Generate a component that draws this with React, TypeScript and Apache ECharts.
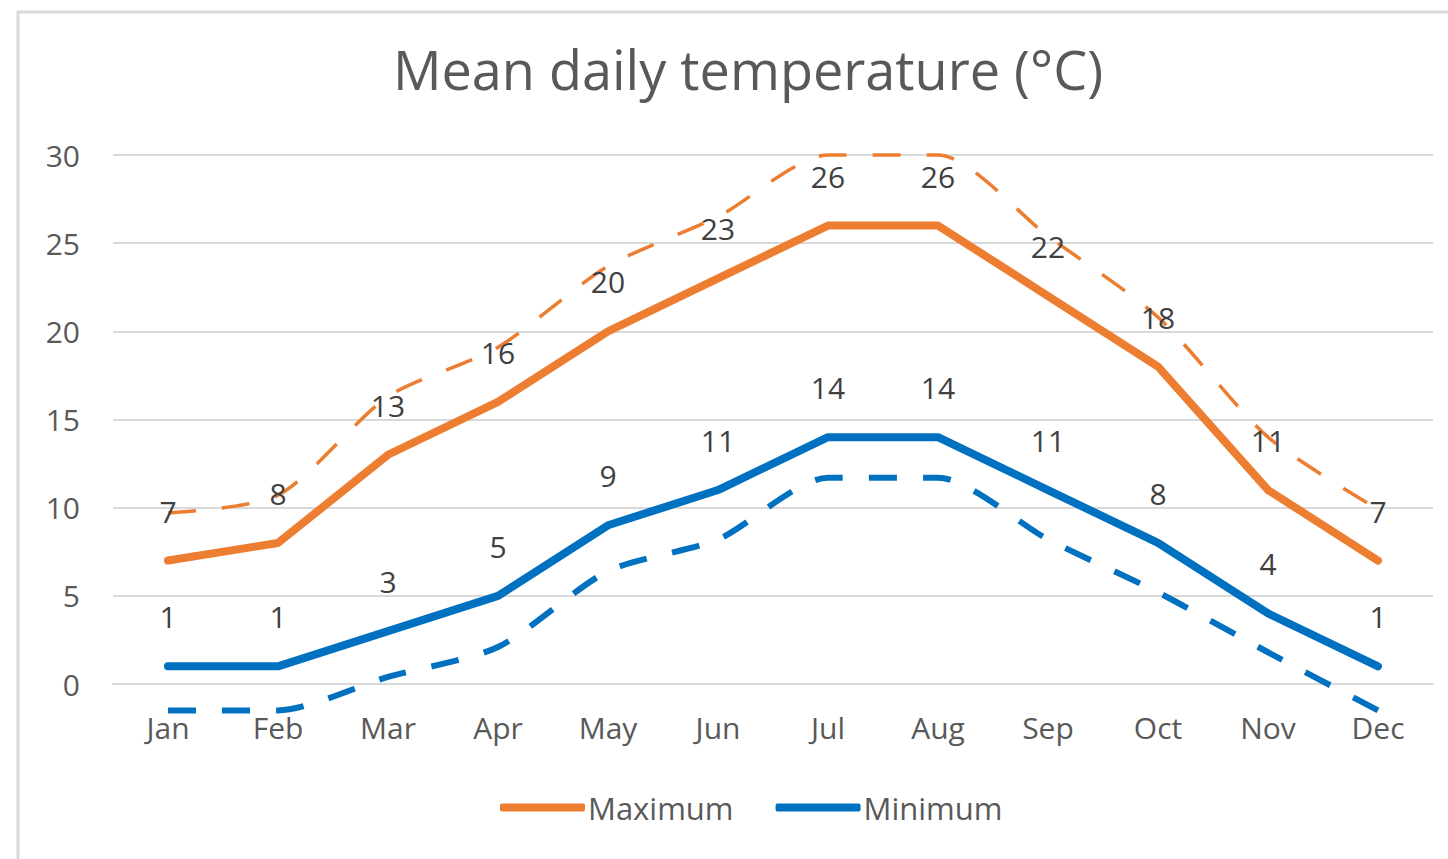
import React, { useEffect, useRef } from "react";
import * as echarts from "echarts";

const months = ["Jan", "Feb", "Mar", "Apr", "May", "Jun", "Jul", "Aug", "Sep", "Oct", "Nov", "Dec"];
const maximum = [7, 8, 13, 16, 20, 23, 26, 26, 22, 18, 11, 7];
const minimum = [1, 1, 3, 5, 9, 11, 14, 14, 11, 8, 4, 1];
const upperDashed = [9.7, 10.7, 16.3, 19.1, 23.7, 26.5, 30, 30, 25.4, 20.8, 14.0, 9.9];
const lowerDashed = [-1.5, -1.5, 0.4, 2.1, 6.4, 8.2, 11.7, 11.7, 8.2, 5.2, 1.8, -1.5];
const yTicks = { min: 0, max: 30, interval: 5 };

const ORANGE = "#ED7D31";
const BLUE = "#0070C0";
const FONT = "'Open Sans', 'Noto Sans', sans-serif";

export default function App() {
  const ref = useRef<HTMLDivElement>(null);
  useEffect(() => {
    if (!ref.current) return;
    const chart = echarts.init(ref.current, undefined, { renderer: "svg" });
    const label = {
      show: true,
      position: "top",
      distance: 34,
      fontSize: 30,
      color: "#404040",
      fontFamily: FONT,
    };
    chart.setOption({
      animation: false,
      backgroundColor: "#ffffff",
      graphic: [
        {
          type: "rect",
          shape: { x: 18, y: 12, width: 1440, height: 870 },
          style: { fill: "none", stroke: "#d9d9d9", lineWidth: 3 },
          silent: true,
        },
      ],
      title: {
        text: "Mean daily temperature (°C)",
        left: 748,
        top: 42,
        textAlign: "center",
        padding: 0,
        textStyle: { fontSize: 54, fontWeight: "normal", color: "#595959", fontFamily: FONT },
      },
      legend: {
        data: ["Maximum", "Minimum"],
        left: 500,
        top: 792,
        icon: "roundRect",
        itemWidth: 85,
        itemHeight: 8,
        itemGap: 42,
        padding: 0,
        textStyle: { fontSize: 31, color: "#595959", fontFamily: FONT, padding: [0, 0, 0, -2] },
      },
      grid: { left: 113, width: 1320, top: 155, height: 529, containLabel: false },
      xAxis: {
        type: "category",
        data: months,
        boundaryGap: true,
        axisLine: { show: true, lineStyle: { color: "#d9d9d9", width: 2 } },
        axisTick: { show: false },
        axisLabel: { fontSize: 30, color: "#595959", fontFamily: FONT, margin: 28 },
      },
      yAxis: {
        type: "value",
        min: yTicks.min,
        max: yTicks.max,
        interval: yTicks.interval,
        axisLine: { show: false },
        axisTick: { show: false },
        splitLine: { lineStyle: { color: "#d9d9d9", width: 2 } },
        axisLabel: { fontSize: 30, color: "#595959", fontFamily: FONT, margin: 33 },
      },
      series: [
        {
          name: "upper",
          type: "line",
          data: upperDashed,
          smooth: 0.25,
          showSymbol: false,
          symbol: "none",
          silent: true,
          clip: false,
          color: ORANGE,
          lineStyle: { color: ORANGE, width: 3.5, type: [28, 26] },
          z: 1,
        },
        {
          name: "lower",
          type: "line",
          data: lowerDashed,
          smooth: 0.25,
          showSymbol: false,
          symbol: "none",
          silent: true,
          clip: false,
          color: BLUE,
          lineStyle: { color: BLUE, width: 6, type: [28, 26] },
          z: 1,
        },
        {
          name: "Maximum",
          type: "line",
          data: maximum,
          color: ORANGE,
          symbol: "circle",
          symbolSize: 1,
          lineStyle: { color: ORANGE, width: 8, cap: "round", join: "round" },
          label,
          z: 2,
        },
        {
          name: "Minimum",
          type: "line",
          data: minimum,
          color: BLUE,
          symbol: "circle",
          symbolSize: 1,
          lineStyle: { color: BLUE, width: 8, cap: "round", join: "round" },
          label,
          z: 2,
        },
      ],
    });
    return () => chart.dispose();
  }, []);
  return (
    <div
      ref={ref}
      style={{ position: "absolute", left: 0, top: 0, width: 1448, height: 859, background: "#fff" }}
    />
  );
}
